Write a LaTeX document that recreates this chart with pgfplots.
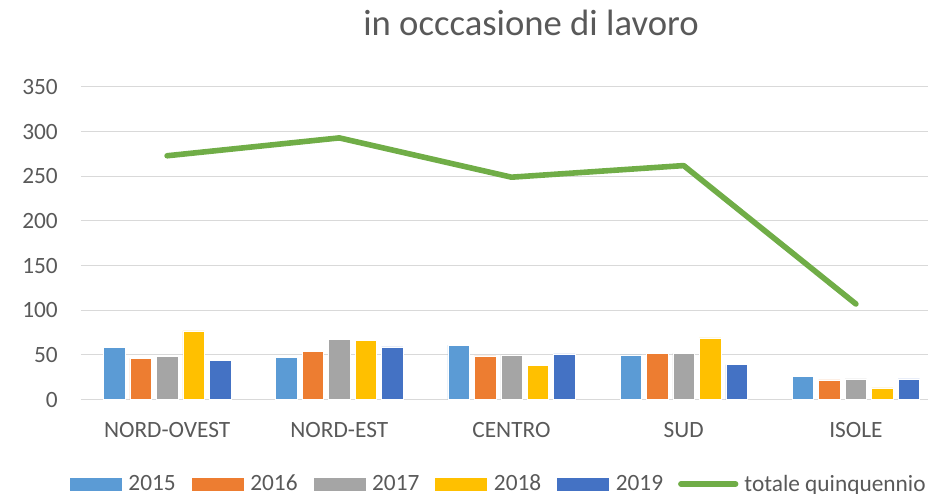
\documentclass[border=0pt]{standalone}
\usepackage{pgfplots}
\pgfplotsset{compat=1.18}
\usepackage{fontspec}
\setmainfont{Carlito}
\definecolor{c15}{HTML}{5B9BD5}
\definecolor{c16}{HTML}{ED7D31}
\definecolor{c17}{HTML}{A5A5A5}
\definecolor{c18}{HTML}{FFC000}
\definecolor{c19}{HTML}{4472C4}
\definecolor{cline}{HTML}{70AD47}
\definecolor{gridc}{HTML}{D9D9D9}
\definecolor{txt}{HTML}{595959}
\pgfplotsset{
  barleg/.style={legend image code/.code={\fill[##1] (0pt,-5.25pt) rectangle (39.75pt,5.25pt);}},
  lineleg/.style={legend image code/.code={\draw[##1] (0pt,0pt) -- (41pt,0pt);}},
}
\begin{document}
\begin{tikzpicture}
\useasboundingbox (0,0) rectangle (696pt,369.75pt);
\clip (0,0) rectangle (696pt,369.75pt);
\node[anchor=base, font=\fontsize{27.5pt}{30pt}\selectfont, text=txt, inner sep=0pt] at (398.25pt,342.75pt) {in occcasione di lavoro};
\begin{axis}[
  at={(60.75pt,70.1pt)}, anchor=south west,
  scale only axis, width=645.75pt, height=234.4pt,
  ybar=3.75pt, bar width=16.1pt,
  xmin=-0.5, xmax=4.5, ymin=0, ymax=350,
  xtick=data, xticklabels={NORD-OVEST,NORD-EST,CENTRO,SUD,ISOLE},
  ytick={0,50,...,350},
  major tick length=0pt,
  axis line style={draw=none},
  ymajorgrids, grid style={draw=gridc, line width=0.75pt},
  tick label style={font=\fontsize{17.5pt}{20pt}\selectfont, text=txt},
  /pgf/number format/assume math mode=true,
  yticklabel style={anchor=east, inner sep=0pt, xshift=-17.25pt},
  xticklabel style={anchor=base, inner sep=0pt, yshift=-28.5pt},
  legend style={at={(-0.014,-0.2703)}, anchor=west, draw=none, fill=none,
    inner sep=0pt, outer sep=0pt,
    font=\fontsize{17.5pt}{20pt}\selectfont, text=txt,
    legend columns=-1,
    nodes={inner sep=0pt},
    /tikz/every odd column/.append style={column sep=4.5pt},
    /tikz/every even column/.append style={column sep=11.25pt}},
]
\addplot[barleg, fill=c15, draw=white, line width=0.4pt] coordinates {(0,58) (1,47) (2,61) (3,50) (4,26)};
\addplot[barleg, fill=c16, draw=white, line width=0.4pt] coordinates {(0,46) (1,54) (2,49) (3,52) (4,22)};
\addplot[barleg, fill=c17, draw=white, line width=0.4pt] coordinates {(0,48) (1,67) (2,50) (3,52) (4,23)};
\addplot[barleg, fill=c18, draw=white, line width=0.4pt] coordinates {(0,77) (1,66) (2,38) (3,69) (4,13)};
\addplot[barleg, fill=c19, draw=white, line width=0.4pt] coordinates {(0,44) (1,59) (2,51) (3,39) (4,23)};
\addplot[lineleg, sharp plot, draw=cline, line width=4.2pt, line cap=round, line join=round, mark=none]
  coordinates {(0,273) (1,293) (2,249) (3,262) (4,107)};
\legend{2015,2016,2017,2018,2019,totale quinquennio}
\end{axis}
\end{tikzpicture}
\end{document}
